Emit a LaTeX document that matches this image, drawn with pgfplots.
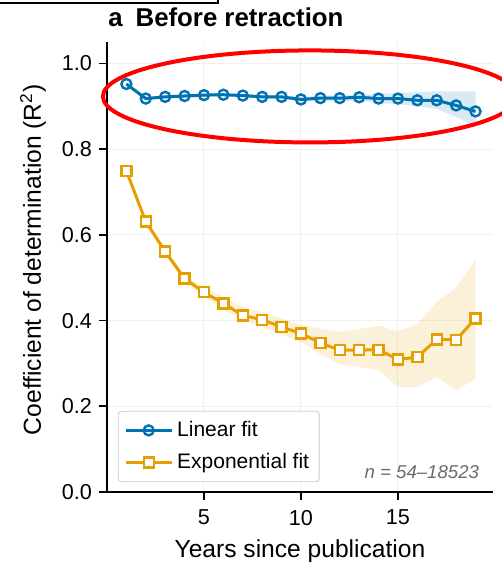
\documentclass[border=0pt]{standalone}
\usepackage{fontspec}
\setmainfont{Liberation Sans}
\usepackage{pgfplots}
\usepackage{pgfplotstable}
\pgfplotsset{compat=1.18}
\usepgfplotslibrary{fillbetween}
\usetikzlibrary{calc}

\definecolor{cblue}{HTML}{0072B2}
\definecolor{corange}{HTML}{E69F00}

% linear fit R^2, with band
\pgfplotstableread{
x y lo hi
1 0.952 0.948 0.956
2 0.918 0.914 0.922
3 0.922 0.918 0.926
4 0.924 0.920 0.928
5 0.926 0.922 0.930
6 0.927 0.923 0.931
7 0.925 0.921 0.929
8 0.922 0.918 0.926
9 0.922 0.917 0.927
10 0.916 0.911 0.921
11 0.919 0.913 0.925
12 0.919 0.912 0.926
13 0.921 0.913 0.928
14 0.918 0.907 0.929
15 0.918 0.905 0.931
16 0.914 0.900 0.933
17 0.914 0.894 0.935
18 0.902 0.875 0.935
19 0.888 0.853 0.935
}\linfit

% exponential fit R^2, with band
\pgfplotstableread{
x y lo hi
1 0.749 0.745 0.753
2 0.631 0.626 0.636
3 0.561 0.553 0.568
4 0.498 0.489 0.506
5 0.466 0.454 0.477
6 0.440 0.425 0.455
7 0.412 0.400 0.432
8 0.402 0.385 0.420
9 0.385 0.367 0.405
10 0.370 0.350 0.390
11 0.348 0.322 0.381
12 0.331 0.298 0.374
13 0.331 0.292 0.380
14 0.332 0.284 0.388
15 0.309 0.245 0.375
16 0.315 0.245 0.392
17 0.356 0.268 0.443
18 0.355 0.237 0.477
19 0.405 0.264 0.543
}\expfit

\begin{document}
\begin{tikzpicture}
\begin{axis}[
    scale only axis,
    width=193pt, height=225pt,
    xmin=0, xmax=19.9,
    ymin=0, ymax=1.05,
    axis x line*=bottom, axis y line*=left,
    xtick={5,10,15},
    ytick={0,0.2,0.4,0.6,0.8,1.0},
    /pgf/number format/assume math mode=true,
    yticklabel style={/pgf/number format/.cd, fixed, fixed zerofill, precision=1},
    ticklabel style={font=\fontsize{10.8}{13}\selectfont},
    xticklabel style={yshift=-1.5pt},
    grid=major,
    major grid style={black!6, line width=0.5pt},
    tick align=outside,
    major tick length=4pt,
    axis line style={line width=0.8pt},
    tick style={black, line width=0.8pt},
    xlabel={Years since publication},
    ylabel={Coefficient of determination (R\textsuperscript{2})},
    label style={font=\fontsize{12.3}{14}\selectfont},
    xlabel style={at={(rel axis cs:0.5,0)}, anchor=base, yshift=-33pt},
    ylabel style={at={(rel axis cs:0,0.516)}, anchor=center, yshift=37pt},
    legend style={at={(rel axis cs:0.028,0.022)}, anchor=south west,
        draw=black!20, rounded corners=1.5pt, fill=white,
        font=\fontsize{10.5}{12}\selectfont, inner xsep=3pt, inner ysep=3pt,
        row sep=3pt},
    legend cell align=left,
    legend image code/.code={\draw[mark repeat=2,mark phase=2]
        plot coordinates {(0pt,0pt)(11.5pt,0pt)(23pt,0pt)};},
    clip=false,
]
\addplot[name path=linlo, draw=none, forget plot] table[x=x, y=lo] {\linfit};
\addplot[name path=linhi, draw=none, forget plot] table[x=x, y=hi] {\linfit};
\addplot[cblue, fill opacity=0.15, draw=none, forget plot] fill between[of=linlo and linhi];
\addplot[name path=explo, draw=none, forget plot] table[x=x, y=lo] {\expfit};
\addplot[name path=exphi, draw=none, forget plot] table[x=x, y=hi] {\expfit};
\addplot[corange, fill opacity=0.15, draw=none, forget plot] fill between[of=explo and exphi];

\addplot[cblue, line width=1.5pt, mark=o, mark size=2.5pt,
    mark options={fill=white, line width=1.2pt}] table[x=x, y=y] {\linfit};
\addplot[corange, line width=1.5pt, mark=square*, mark size=2.5pt,
    mark options={fill=white, line width=1.2pt}] table[x=x, y=y] {\expfit};
\legend{Linear fit, Exponential fit}

\node[anchor=base east, text=black!58, font=\fontsize{9.3}{11}\selectfont\itshape]
    at (rel axis cs:0.982,0.031) {n = 54--18523};
\coordinate (bl) at (rel axis cs:0,0);
\coordinate (tr) at (rel axis cs:1,1);
\coordinate (tl) at (rel axis cs:0,1);
\coordinate (ec) at (axis cs:10.46,0.923);
\end{axis}
\node[anchor=base west, inner sep=0pt, font=\fontsize{12.9}{15}\selectfont\bfseries]
    at ($(tl)+(0.5pt,7.6pt)$) {a\hspace{0.5em}Before retraction};
\draw[red, line width=2pt, overlay] (ec) ellipse [x radius=103.5pt, y radius=23pt];
\pgfresetboundingbox
\path[use as bounding box] ($(bl)+(-53.5pt,-36pt)$) rectangle ($(tr)+(4.5pt,21pt)$);
\draw[line width=1pt, overlay] ($(bl|-tr)+(-53.5pt,19.5pt)$) -- ++(109pt,0) -- ++(0,3pt);
\end{tikzpicture}
\end{document}
